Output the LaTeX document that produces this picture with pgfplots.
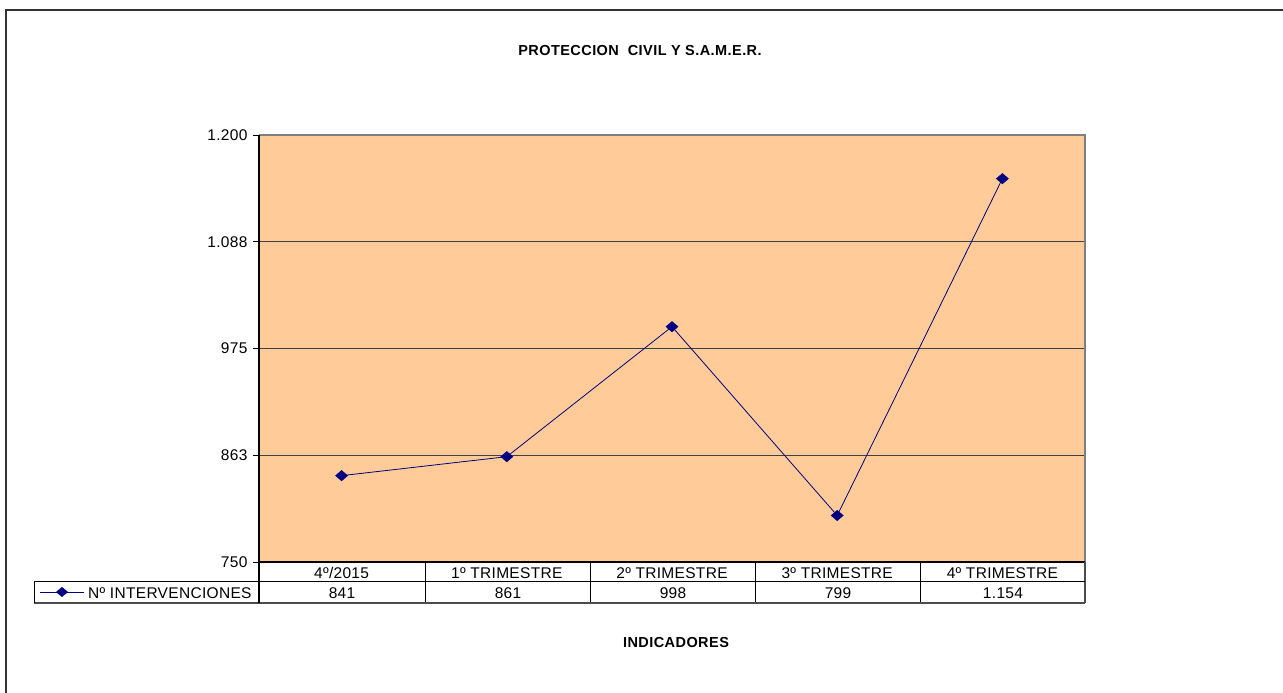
\documentclass[border=0pt]{standalone}
\usepackage{fontspec}
\setmainfont{Liberation Sans}
\newfontfamily\xl[LetterSpace=2]{Liberation Sans}
\newfontfamily\xlb[LetterSpace=3,BoldFont={Liberation Sans Bold}]{Liberation Sans}
\usepackage{pgfplots}
\pgfplotsset{compat=1.18}
\definecolor{peach}{HTML}{FFCC99}
\definecolor{navy}{HTML}{000080}
\begin{document}
\begin{tikzpicture}[x=1pt,y=1pt]
\useasboundingbox (0,0) rectangle (1283,693);
% outer frame
\draw[line width=1.5pt, black!80] (6,-20) -- (6,683) -- (1300,683);
% title
\node[font=\xlb\bfseries\fontsize{14.5}{16}\selectfont] at (640,642.5) {PROTECCION\ \ CIVIL Y S.A.M.E.R.};
\node[font=\xlb\bfseries\fontsize{14.5}{16}\selectfont] at (676,50) {INDICADORES};
\begin{axis}[
  at={(259pt,131pt)}, anchor=south west,
  width=826pt, height=427pt, scale only axis,
  xmin=-0.5, xmax=4.5, ymin=750, ymax=1200,
  axis background/.style={fill=peach},
  axis line style={draw=none},
  xtick={0,1,2,3,4},
  xticklabels={4º/2015,1º TRIMESTRE,2º TRIMESTRE,3º TRIMESTRE,4º TRIMESTRE},
  x tick label style={font=\xl\fontsize{15.5}{17}\selectfont},
  xtick style={draw=none},
  xticklabel style={anchor=base, inner sep=0pt, yshift=-11pt},
  ytick={750,862.5,975,1087.5,1200},
  yticklabels={750,863,975,1.088,1.200},
  ytick pos=left,
  y tick label style={font=\xl\fontsize{15.5}{17}\selectfont, xshift=-2pt},
  ytick style={black, line width=0.8pt},
  tick align=outside, major tick length=6pt,
  ymajorgrids, grid style={black!75, line width=0.9pt},
  clip=false,
]
\addplot[navy, line width=0.8pt, mark=diamond*, mark size=5pt, mark options={fill=navy, draw=navy, xscale=1.55}]
  coordinates {(0,841) (1,861) (2,998) (3,799) (4,1154)};
\draw[gray, line width=1.2pt] (rel axis cs:0,1) -- (rel axis cs:1,1) -- (rel axis cs:1,0);
\draw[black, line width=2pt] (rel axis cs:0,1) -- (rel axis cs:0,0) -- (rel axis cs:1,0);
\end{axis}
% data table
\begin{scope}[line width=1pt]
\foreach \xx in {425,590,755,920} \draw (\xx,131) -- (\xx,90);
\draw[black!70, line width=1.2pt] (1085,131) -- (1085,90);
\draw (34,111) -- (1085,111);
\draw[black!70, line width=1.5pt] (34,90) -- (1085,90);
\draw (34,111) -- (34,90);
\draw[line width=1.5pt] (259,131) -- (259,90);
\end{scope}
\foreach \xx/\v in {342/841,508/861,673/998,838/799,1003/1.154}
  \node[font=\xl\fontsize{15.5}{17}\selectfont, anchor=base, inner sep=0pt] at (\xx,94.5) {\v};
% legend key
\draw[navy, line width=0.8pt] (40,101) -- (84,101);
\fill[navy] (62,106) -- (68,101) -- (62,96) -- (56,101) -- cycle;
\node[font=\xl\fontsize{15.5}{17}\selectfont, anchor=base west, inner sep=0pt] at (88,94.5) {Nº INTERVENCIONES};
\end{tikzpicture}
\end{document}
